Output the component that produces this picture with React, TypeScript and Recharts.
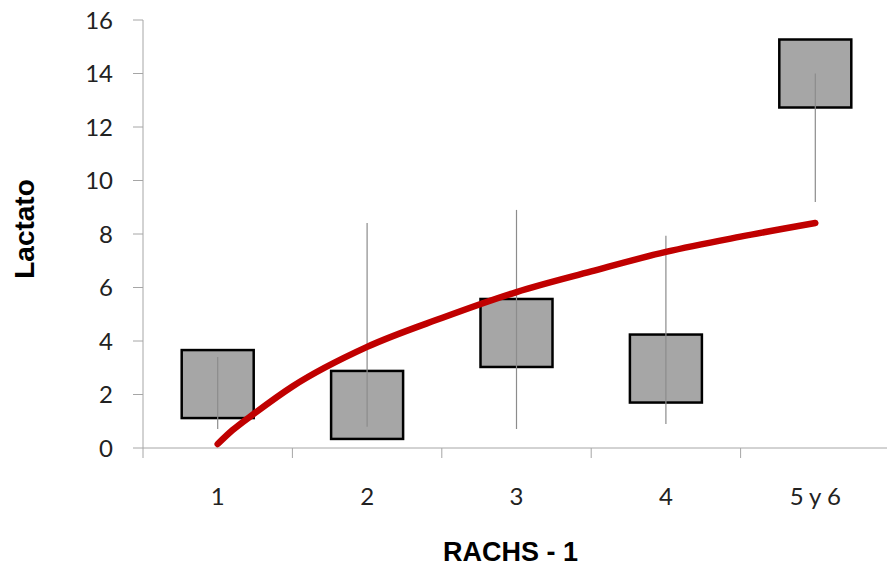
import React from 'react';
import { ComposedChart, Line, XAxis, YAxis, Curve } from 'recharts';

// categories of RACHS-1 and lactate values
const categories = ['1', '2', '3', '4', '5 y 6'];
const positions = [1, 2, 3, 4, 5];
const means = [2.39, 1.61, 4.3, 2.97, 14.0];
const lows = [0.71, 0.79, 0.71, 0.9, 9.2];
const highs = [3.4, 8.41, 8.9, 7.93, 14.0];

// red trend curve, read at several x positions
const trendX = [1, 1.1, 1.25, 1.5, 2, 2.5, 3, 3.5, 4, 4.5, 5];
const trendY = [0.15, 0.67, 1.31, 2.3, 3.78, 4.86, 5.83, 6.6, 7.33, 7.9, 8.41];

const yTicks = [0, 2, 4, 6, 8, 10, 12, 14, 16];
const xTicks = [0.5, 1, 1.5, 2, 2.5, 3, 3.5, 4, 4.5, 5, 5.5];

const points = positions.map((x, i) => ({ x, y: means[i] }));

// each whisker is a two-point vertical segment
const whiskers = positions.map((x, i) => [
  { x, y: lows[i] },
  { x, y: highs[i] },
]);

const trend = trendX.map((x, i) => ({ x, y: trendY[i] }));

const axisColor = '#a6a6a6';

// dots are painted above line strokes, so everything is drawn as dots to keep the order
const BoxDot = (props: any) => {
  const { cx, cy, index } = props;
  return (
    <rect key={`b${index}`} x={cx - 36} y={cy - 34} width={72} height={68} fill="#a6a6a6" stroke="#000" strokeWidth={2.5} />
  );
};

const WhiskerDot = (props: any) => {
  const { index, points: pts } = props;
  if (index !== 0 || !pts) return <g key={`w${index}`} />;
  return (
    <line key="w" x1={pts[0].x} y1={pts[0].y} x2={pts[1].x} y2={pts[1].y} stroke="#8c8c8c" strokeWidth={1.2} />
  );
};

const TrendDot = (props: any) => {
  const { index, points: pts } = props;
  if (index !== 0 || !pts) return <g key={`t${index}`} />;
  return (
    <Curve
      key="t"
      type="monotone"
      points={pts}
      stroke="#c00000"
      strokeWidth={6.5}
      strokeLinecap="round"
      fill="none"
    />
  );
};

const XTick = (props: any) => {
  const { x, y, payload } = props;
  const v = payload.value;
  if (Number.isInteger(v)) {
    return (
      <text x={x} y={y + 57} textAnchor="middle" fontSize={24} fontFamily="Lato" fill="#222">
        {categories[v - 1]}
      </text>
    );
  }
  return <line x1={x} y1={y} x2={x} y2={y + 10} stroke={axisColor} strokeWidth={1} />;
};

const App: React.FC = () => {
  return (
    <div style={{ position: 'absolute', left: 0, top: 0, width: 887, height: 569, overflow: 'hidden', background: '#fff' }}>
      <ComposedChart width={900} height={569} margin={{ top: 20, right: 10, bottom: 0, left: 0 }}>
        <XAxis
          type="number"
          dataKey="x"
          domain={[0.5, 5.5]}
          ticks={xTicks}
          interval={0}
          allowDataOverflow
          height={121}
          tickSize={0}
          tickMargin={0}
          tickLine={false}
          stroke={axisColor}
          tick={<XTick />}
          label={{
            content: (p: any) => {
              const vb = p.viewBox;
              return (
                <text
                  x={vb.x + vb.width / 2 - 6}
                  y={vb.y + 104}
                  textAnchor="middle"
                  dominantBaseline="central"
                  fontSize={27}
                  fontWeight="bold"
                  fontFamily="Liberation Sans"
                  fill="#000"
                >
                  RACHS - 1
                </text>
              );
            },
          }}
        />
        <YAxis
          type="number"
          dataKey="y"
          domain={[0, 16]}
          ticks={yTicks}
          width={143}
          tickSize={10}
          tickMargin={20}
          stroke={axisColor}
          tick={{ fontSize: 24, fontFamily: 'Lato', fill: '#222' }}
          label={{
            content: (p: any) => {
              const vb = p.viewBox;
              const cx = vb.x + 24;
              const cy = vb.y + vb.height / 2 - 5;
              return (
                <text
                  x={cx}
                  y={cy}
                  transform={`rotate(-90, ${cx}, ${cy})`}
                  textAnchor="middle"
                  dominantBaseline="central"
                  fontSize={28}
                  fontWeight="bold"
                  fontFamily="Liberation Sans"
                  fill="#000"
                >
                  Lactato
                </text>
              );
            },
          }}
        />
        <Line
          data={points}
          dataKey="y"
          stroke="none"
          dot={<BoxDot />}
          activeDot={false}
          isAnimationActive={false}
        />
        {whiskers.map((w, i) => (
          <Line
            key={`w${i}`}
            data={w}
            dataKey="y"
            stroke="none"
            dot={<WhiskerDot />}
            activeDot={false}
            isAnimationActive={false}
          />
        ))}
        <Line
          data={trend}
          dataKey="y"
          stroke="none"
          dot={<TrendDot />}
          activeDot={false}
          isAnimationActive={false}
        />
      </ComposedChart>
    </div>
  );
};

export default App;
